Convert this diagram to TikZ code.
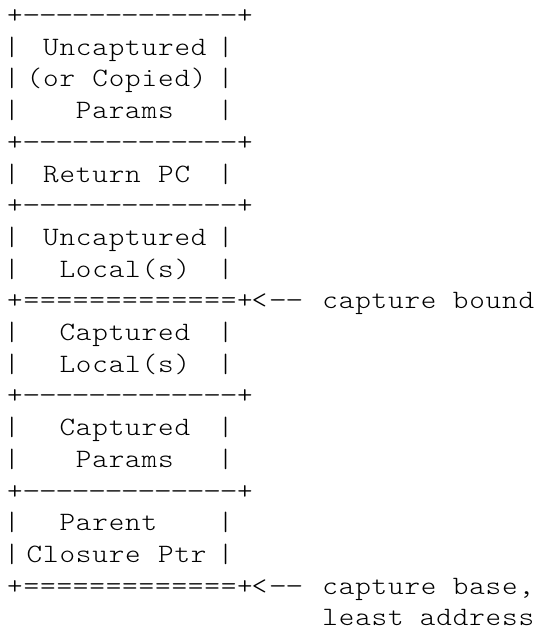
\documentclass[tikz,border=0pt]{standalone}
\usepackage{fontspec}
\newfontfamily\asciifont{lmmonolt10-regular.otf}[FakeStretch=1.12]
\newfontfamily\asciidashfont{lmmonolt10-regular.otf}[FakeStretch=1.3]
\tikzset{
  asciichr/.style={anchor=base, inner sep=0pt, outer sep=0pt,
    font=\asciifont\fontsize{26.5pt}{31.7pt}\selectfont, text=black},
  asciidash/.style={asciichr, font=\asciidashfont\fontsize{26.5pt}{31.7pt}\selectfont}
}
% \asciiword[x-offset in pt]{first column}{row}{characters}
% every character is centred in its own fixed-width cell
\ExplSyntaxOn
\int_new:N \l__asc_col_int
\NewDocumentCommand \asciiword { O{0} m m m }
  {
    \int_set:Nn \l__asc_col_int {#2}
    \tl_map_inline:nn {#4}
      {
        \str_if_eq:nnTF {##1} {-}
          { \tl_set:Nn \l_tmpa_tl {asciidash} }
          { \tl_set:Nn \l_tmpa_tl {asciichr} }
        \node [style=\l_tmpa_tl] (c-#3-\int_use:N \l__asc_col_int)
          at ({6.8pt+(\int_use:N \l__asc_col_int+0.5)*16.43pt+(#1pt)},{-23.5pt-#3*31.7pt}) {##1};
        \int_incr:N \l__asc_col_int
      }
  }
\ExplSyntaxOff
\begin{document}
\begin{tikzpicture}
\useasboundingbox (0,0) rectangle (534pt,-632pt);
% row 0
\asciiword{0}{0}{+-------------+}
% Uncaptured (or Copied) Params
\asciiword[-3]{0}{1}{|}\asciiword[3]{2}{1}{Uncaptured}\asciiword[-3]{13}{1}{|}
\asciiword[-3]{0}{2}{|}\asciiword[3]{1}{2}{(or}\asciiword[3]{5}{2}{Copied)}\asciiword[-3]{13}{2}{|}
\asciiword[-3]{0}{3}{|}\asciiword[3]{4}{3}{Params}\asciiword[-3]{13}{3}{|}
\asciiword{0}{4}{+-------------+}
% Return PC
\asciiword[-3]{0}{5}{|}\asciiword[3]{2}{5}{Return}\asciiword[3]{9}{5}{PC}\asciiword[-3]{13}{5}{|}
\asciiword{0}{6}{+-------------+}
% Uncaptured Local(s)
\asciiword[-3]{0}{7}{|}\asciiword[3]{2}{7}{Uncaptured}\asciiword[-3]{13}{7}{|}
\asciiword[-3]{0}{8}{|}\asciiword[3]{3}{8}{Local(s)}\asciiword[-3]{13}{8}{|}
% capture bound
\asciiword{0}{9}{+=============+}\asciiword[-2]{15}{9}{<}\asciiword{16}{9}{--}
\asciiword[3]{19}{9}{capture}\asciiword[2]{27}{9}{bound}
% Captured Local(s)
\asciiword[-3]{0}{10}{|}\asciiword[3]{3}{10}{Captured}\asciiword[-3]{13}{10}{|}
\asciiword[-3]{0}{11}{|}\asciiword[3]{3}{11}{Local(s)}\asciiword[-3]{13}{11}{|}
\asciiword{0}{12}{+-------------+}
% Captured Params
\asciiword[-3]{0}{13}{|}\asciiword[3]{3}{13}{Captured}\asciiword[-3]{13}{13}{|}
\asciiword[-3]{0}{14}{|}\asciiword[3]{4}{14}{Params}\asciiword[-3]{13}{14}{|}
\asciiword{0}{15}{+-------------+}
% Parent Closure Ptr
\asciiword[-3]{0}{16}{|}\asciiword[3]{3}{16}{Parent}\asciiword[-3]{13}{16}{|}
\asciiword[-3]{0}{17}{|}\asciiword[3]{1}{17}{Closure}\asciiword[3]{9}{17}{Ptr}\asciiword[-3]{13}{17}{|}
% capture base, least address
\asciiword{0}{18}{+=============+}\asciiword[-2]{15}{18}{<}\asciiword{16}{18}{--}
\asciiword[3]{19}{18}{capture}\asciiword[2]{27}{18}{base,}
\asciiword[3]{19}{19}{least}\asciiword[2]{25}{19}{address}
\end{tikzpicture}
\end{document}
